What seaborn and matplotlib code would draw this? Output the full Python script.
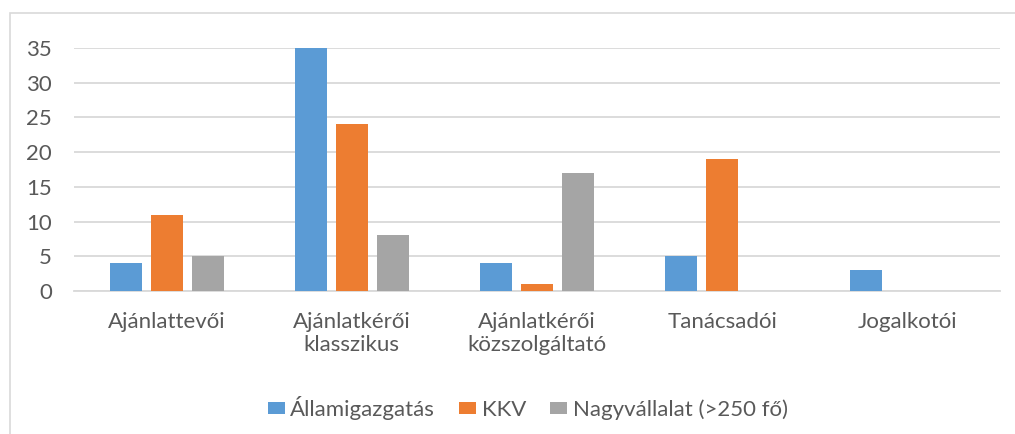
import matplotlib.pyplot as plt
from matplotlib.patches import Rectangle
import seaborn as sns
import pandas as pd

# adatok
categories = ["Ajánlattevői", "Ajánlatkérői\nklasszikus", "Ajánlatkérői\nközszolgáltató",
              "Tanácsadói", "Jogalkotói"]
series = ["Államigazgatás", "KKV", "Nagyvállalat (>250 fő)"]
allamigazgatas = [4, 35, 4, 5, 3]
kkv = [11, 24, 1, 19, 0]
nagyvallalat = [5, 8, 17, 0, 0]
yticks = [0, 5, 10, 15, 20, 25, 30, 35]

colors = ["#5B9BD5", "#ED7D31", "#A5A5A5"]
text_color = "#595959"
grid_color = "#D9D9D9"

df = pd.DataFrame({
    "kategoria": categories * 3,
    "csoport": [s for s in series for _ in categories],
    "ertek": allamigazgatas + kkv + nagyvallalat,
})

sns.set_style("white")
plt.rcParams["font.family"] = ["Lato", "DejaVu Sans"]

fig = plt.figure(figsize=(10.15, 4.34), dpi=100)
ax = fig.add_axes([74 / 1015, 1 - 291 / 434, 926 / 1015, 243 / 434])

sns.barplot(data=df, x="kategoria", y="ertek", hue="csoport", order=categories,
            hue_order=series, palette=colors, width=0.665, gap=0.22,
            saturation=1, errorbar=None, linewidth=0, ax=ax, zorder=3)

ax.set_ylim(0, 35)
ax.set_xlim(-0.5, len(categories) - 0.5)
ax.set_yticks(yticks)
ax.yaxis.grid(True, color=grid_color, linewidth=1.3, zorder=0)
ax.set_axisbelow(True)
for side in ["top", "right", "left"]:
    ax.spines[side].set_visible(False)
ax.spines["bottom"].set_color(grid_color)
ax.spines["bottom"].set_linewidth(1.3)
ax.tick_params(axis="both", length=0, colors=text_color, labelsize=16)
ax.tick_params(axis="x", pad=15)
ax.tick_params(axis="y", pad=16)
ax.set_xlabel("")
ax.set_ylabel("")

leg = ax.legend(loc="upper center", bbox_to_anchor=(0.49, -0.35), ncol=3, frameon=False,
                fontsize=16, handlelength=0.75, handleheight=0.4, handletextpad=0.25,
                columnspacing=1.1)
for t in leg.get_texts():
    t.set_color(text_color)

# külső keret
fig.patches.append(Rectangle((10 / 1015, -0.05), 1.1, 1.05 - 13 / 434, transform=fig.transFigure,
                             fill=False, edgecolor=grid_color, linewidth=1.2))

fig.savefig("out.png", dpi=100)
